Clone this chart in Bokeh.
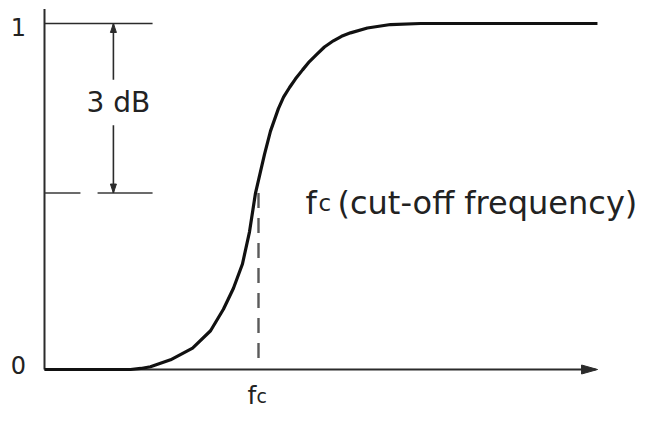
from bokeh.plotting import figure
from bokeh.models import Range1d
from bokeh.core.properties import value
from bokeh.embed import file_html
from bokeh.resources import INLINE

# ---- data (frequency in units of fc, gain normalised) ----
freq = [0.0, 0.402, 0.450, 0.495, 0.589, 0.692, 0.776, 0.836, 0.883, 0.925, 0.958,
        0.986, 1.009, 1.028, 1.056, 1.093, 1.117, 1.145, 1.173, 1.206, 1.238,
        1.271, 1.308, 1.350, 1.388, 1.430, 1.509, 1.617, 1.757, 2.584]
gain = [0.0, 0.0, 0.003, 0.008, 0.028, 0.062, 0.112, 0.174, 0.235, 0.305, 0.398,
        0.510, 0.571, 0.622, 0.689, 0.754, 0.787, 0.815, 0.840, 0.866, 0.890,
        0.910, 0.932, 0.950, 0.963, 0.973, 0.987, 0.997, 1.0, 1.0]
tick_values = [0, 1]
tick_labels = ["0", "1"]
fc = 1.0
half_power = 0.51        # level of the -3 dB mark as drawn
x_axis_end = 2.575
y_axis_end = 1.042
ref_line_end = 0.505     # extent of the level marks
dash_gap = (0.168, 0.248)
dim_x = 0.322            # x of the 3 dB dimension arrow
dim_gap = (0.706, 0.8375)

W, H = 641, 410
SX, SY = 214.0, 346.0     # px per unit
X0, Y0 = 44, 369          # screen position of the origin
FONT = value("DejaVu Sans")

p = figure(width=W, height=H,
           x_range=Range1d(-X0 / SX, (W - X0) / SX),
           y_range=Range1d(-(H - Y0) / SY, Y0 / SY),
           output_backend="svg", toolbar_location=None,
           x_axis_location=None, y_axis_location=None,
           min_border=0)
p.min_border_left = p.min_border_right = p.min_border_top = p.min_border_bottom = 0
p.grid.visible = False
p.outline_line_color = None
p.background_fill_color = "white"
p.border_fill_color = "white"

AX = "#2b2b2b"

# axes
p.line([0, 0], [0, y_axis_end], line_color=AX, line_width=2)
p.line([0, x_axis_end], [0, 0], line_color=AX, line_width=2)
hl, hw = 14 / SX, 4.5 / SY
p.patch([x_axis_end + 2 / SX, x_axis_end - hl, x_axis_end - hl],
        [0, hw, -hw], fill_color=AX, line_color=AX, line_width=1)

# level marks
p.line([0, ref_line_end], [1, 1], line_color=AX, line_width=1.6)
p.line([0, dash_gap[0]], [half_power, half_power], line_color="#3a3a3a", line_width=1.6)
p.line([dash_gap[1], ref_line_end], [half_power, half_power], line_color="#3a3a3a", line_width=1.6)

# 3 dB dimension arrow
p.line([dim_x, dim_x], [1, dim_gap[1]], line_color=AX, line_width=1.6)
p.line([dim_x, dim_x], [dim_gap[0], half_power], line_color=AX, line_width=1.6)
al, aw = 9 / SY, 3 / SX
p.patch([dim_x, dim_x - aw, dim_x + aw], [1, 1 - al, 1 - al],
        fill_color=AX, line_color=AX, line_width=1)
p.patch([dim_x, dim_x - aw, dim_x + aw], [half_power, half_power + al, half_power + al],
        fill_color=AX, line_color=AX, line_width=1)

# cut-off dashed line
p.line([fc, fc], [half_power, 0.03], line_color="#5a5a5a", line_width=2.4, line_dash="15 10")

# response curve
p.line(freq, gain, line_color="#111111", line_width=3.2, line_join="round")

# texts
p.text(x=[0] * len(tick_values), y=tick_values, text=tick_labels,
       x_offset=-26, y_offset=[-5, 3],
       text_font=FONT, text_font_size="24px", text_color="#222222",
       text_align="center", text_baseline="middle")
p.text(x=[dim_x], y=[(dim_gap[0] + dim_gap[1]) / 2], text=["3 dB"], x_offset=5,
       text_font=FONT, text_font_size="28px", text_color="#222222",
       text_align="center", text_baseline="middle")
# fc under the axis
p.text(x=[fc], y=[0], text=["f"], x_offset=-11, y_offset=26,
       text_font=FONT, text_font_size="25px", text_color="#222222",
       text_align="left", text_baseline="alphabetic")
p.text(x=[fc], y=[0], text=["c"], x_offset=-2, y_offset=26,
       text_font=FONT, text_font_size="19px", text_color="#222222",
       text_align="left", text_baseline="alphabetic")
# fc (cut-off frequency)
p.text(x=[fc], y=[half_power], text=["f"], x_offset=47, y_offset=10,
       text_font=FONT, text_font_size="32px", text_color="#222222",
       text_align="left", text_baseline="alphabetic")
p.text(x=[fc], y=[half_power], text=["c"], x_offset=60, y_offset=10,
       text_font=FONT, text_font_size="23px", text_color="#222222",
       text_align="left", text_baseline="alphabetic")
p.text(x=[fc], y=[half_power], text=["(cut-off frequency)"], x_offset=79, y_offset=10,
       text_font=FONT, text_font_size="32px", text_color="#222222",
       text_align="left", text_baseline="alphabetic")

open("out.html", "w").write(file_html(p, INLINE))
